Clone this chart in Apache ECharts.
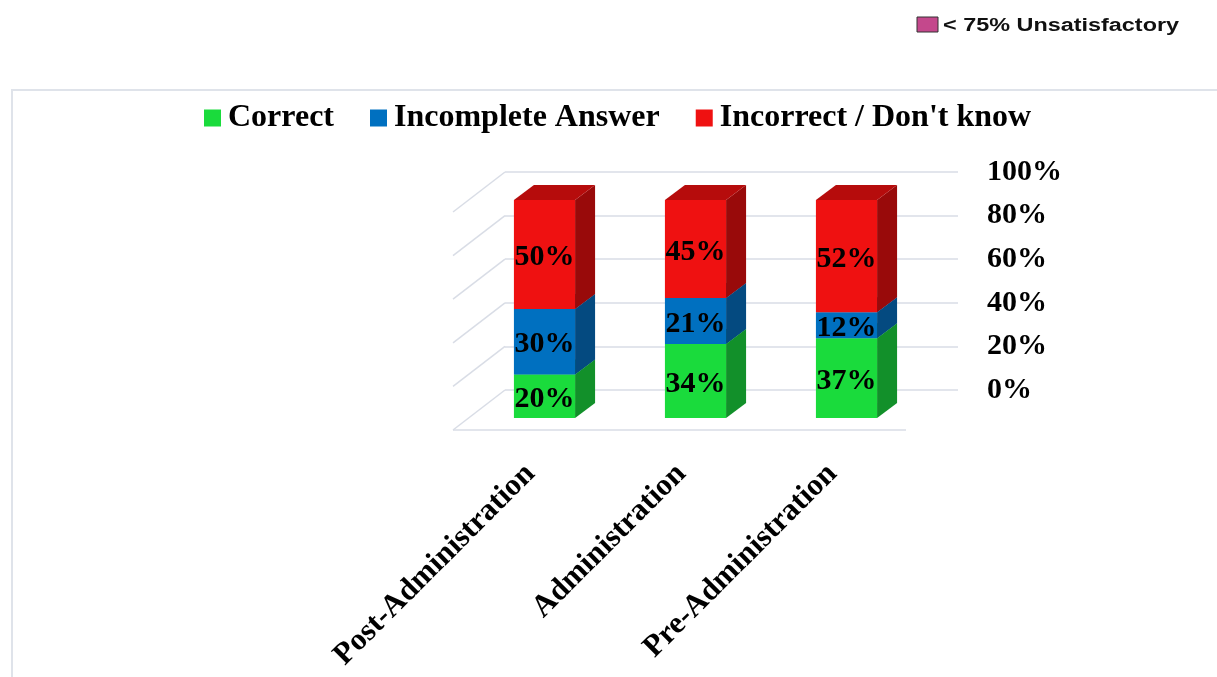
<!DOCTYPE html>
<html><head><meta charset="utf-8">
<script src="https://cdn.jsdelivr.net/npm/echarts@6/dist/echarts.min.js"></script>
<style>html,body{margin:0;padding:0;background:#fff}#c{width:1217px;height:677px}</style>
</head><body><div id="c"></div>
<script>
// ---- data ----
const categories = ['Post-Administration', 'Administration', 'Pre-Administration'];
const correct = [20, 34, 37];
const incomplete = [30, 21, 12];
const incorrect = [50, 45, 52];
const seriesNames = ['Correct', 'Incomplete Answer', "Incorrect / Don't know"];
const yTicks = [0, 20, 40, 60, 80, 100];
const noteText = '< 75% Unsatisfactory';

// ---- style ----
const FONT = "'Liberation Serif', 'Times New Roman', serif";
const faceColors = [
  { front: '#1adb3c', side: '#12902a', top: '#15b532' },
  { front: '#0070c0', side: '#044a80', top: '#035c9e' },
  { front: '#ef1111', side: '#990a0a', top: '#b60c0c' }
];
const GRID_COL = '#d9dde6';
const DX = 20, DY = 15;          // bar depth
const WX = 52, WY = 40;          // wall depth
const SHIFT_X = 36, SHIFT_Y = 28; // front plane offset of bars

const G0 = { left: 505, right: 259, top: 172, bottom: 287 };
const G1 = { left: G0.left - SHIFT_X, right: G0.right + SHIFT_X, top: G0.top + SHIFT_Y, bottom: G0.bottom - SHIFT_Y };

const valueSets = [correct, incomplete, incorrect];
const totals = categories.map((_, i) => correct[i] + incomplete[i] + incorrect[i]);

function segData(k) {
  return categories.map((_, i) => {
    let base = 0;
    for (let j = 0; j < k; j++) base += valueSets[j][i];
    const b = base / totals[i] * 100;
    const t = (base + valueSets[k][i]) / totals[i] * 100;
    return [i, b, t, valueSets[k][i]];
  });
}

function barRender(k) {
  const col = faceColors[k];
  return function (params, api) {
    const i = api.value(0), b = api.value(1), t = api.value(2), v = api.value(3);
    const pb = api.coord([i, b]);
    const pt = api.coord([i, t]);
    const bw = api.size([1, 0])[0] * 0.405;
    const x0 = pb[0] - bw / 2, x1 = pb[0] + bw / 2;
    const yb = pb[1], yt = pt[1];
    return {
      type: 'group',
      children: [
        { type: 'polygon', shape: { points: [[x1, yb], [x1 + DX, yb - DY], [x1 + DX, yt - DY], [x1, yt]] }, style: { fill: col.side } },
        { type: 'polygon', shape: { points: [[x0, yt], [x1, yt], [x1 + DX, yt - DY], [x0 + DX, yt - DY]] }, style: { fill: col.top } },
        { type: 'rect', shape: { x: x0, y: yt, width: bw, height: yb - yt }, style: { fill: col.front } },
        { type: 'text', style: { text: v + '%', x: (x0 + x1) / 2, y: (yb + yt) / 2 + 3, align: 'center', verticalAlign: 'middle', font: 'bold 30px ' + FONT, fill: '#000' }, z2: 10 }
      ]
    };
  };
}

function wallRender(params, api) {
  const v = api.value(1);
  const p = api.coord([0, v]);
  const band = api.size([1, 0])[0];
  const xL = p[0] - band / 2;
  const children = [
    { type: 'line', shape: { x1: xL, y1: p[1], x2: xL - WX, y2: p[1] + WY }, style: { stroke: GRID_COL, lineWidth: 1.5 } }
  ];
  if (v === 0) {
    const xR = api.coord([categories.length - 1, 0])[0] + band / 2;
    children.push({ type: 'line', shape: { x1: xL - WX, y1: p[1] + WY, x2: xR - WX, y2: p[1] + WY }, style: { stroke: GRID_COL, lineWidth: 1.5 } });
  }
  return { type: 'group', children };
}

const chart = echarts.init(document.getElementById('c'), null, { renderer: 'canvas' });

const series = [{
  type: 'custom', name: '_walls', xAxisIndex: 0, yAxisIndex: 0,
  renderItem: wallRender, data: yTicks.map(v => [0, v]), silent: true, z: 1
}];
for (let k = 0; k < 3; k++) {
  series.push({
    type: 'custom', name: seriesNames[k], xAxisIndex: 1, yAxisIndex: 1,
    renderItem: barRender(k), data: segData(k), z: 3 + k,
    itemStyle: { color: faceColors[k].front }
  });
}

chart.setOption({
  animation: false,
  backgroundColor: '#fff',
  grid: [
    Object.assign({ containLabel: false }, G0),
    Object.assign({ containLabel: false }, G1)
  ],
  legend: {
    data: seriesNames,
    left: 204, top: 102, padding: 0,
    icon: 'rect', itemWidth: 17, itemHeight: 17, itemGap: 36,
    textStyle: { fontFamily: FONT, fontWeight: 'bold', fontSize: 32, color: '#000', padding: [0, 0, 0, 2] }
  },
  xAxis: [
    { gridIndex: 0, type: 'category', data: categories, show: false },
    {
      gridIndex: 1, type: 'category', data: categories,
      axisLine: { show: false }, axisTick: { show: false }, splitLine: { show: false },
      axisLabel: { rotate: 45, margin: 37, interval: 0, padding: [0, 20, 0, 0], fontFamily: FONT, fontWeight: 'bold', fontSize: 31, color: '#000' }
    }
  ],
  yAxis: [
    {
      gridIndex: 0, type: 'value', position: 'right', min: 0, max: 100, interval: 20,
      axisLine: { show: false }, axisTick: { show: false },
      splitLine: { show: true, lineStyle: { color: GRID_COL, width: 1.5 } },
      axisLabel: { margin: 29, padding: [10, 0, 0, 0], formatter: '{value}%', fontFamily: FONT, fontWeight: 'bold', fontSize: 30, color: '#000' }
    },
    { gridIndex: 1, type: 'value', min: 0, max: 100, show: false }
  ],
  graphic: [
    { type: 'line', shape: { x1: 11, y1: 90, x2: 1217, y2: 90 }, style: { stroke: '#dfe3ea', lineWidth: 2 } },
    { type: 'line', shape: { x1: 12, y1: 90, x2: 12, y2: 677 }, style: { stroke: '#dfe3ea', lineWidth: 2 } },
    { type: 'rect', shape: { x: 917, y: 17, width: 21, height: 15 }, style: { fill: '#c4488c', stroke: '#333', lineWidth: 1 } },
    { type: 'text', x: 943, y: 26, scaleX: 1.3, style: { text: noteText, font: "bold 18px 'Liberation Sans', Arial, sans-serif", fill: '#111', verticalAlign: 'middle' } }
  ],
  series
});
</script>
</body></html>
